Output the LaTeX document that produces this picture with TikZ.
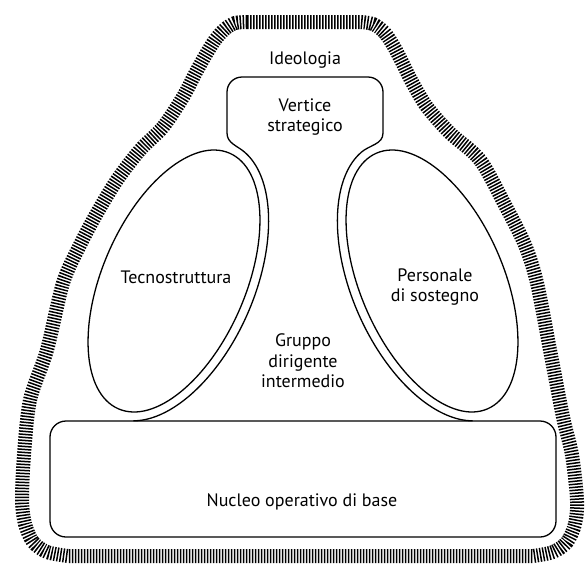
\documentclass[tikz,border=0pt]{standalone}
\usepackage{fontspec}
\setmainfont{PT Sans}
\usetikzlibrary{calc}

\begin{document}
\begin{tikzpicture}[x=1pt, y=1pt, font=\fontsize{18}{20.5}\selectfont]
\tikzstyle{band}=[line width=14pt, dash pattern=on 1.5pt off 1.5pt]
\tikzstyle{partline}=[draw, line width=1.3pt]
\tikzstyle{lbl}=[align=center, inner sep=0pt]
\useasboundingbox (0,0) rectangle (587,-571);
% ideologia
\draw[band] (247,-22) -- (360,-22) -- plot[smooth, tension=0.5] coordinates {(360,-22) (373,-24) (384,-32) (393,-45) (402,-62) (412,-82) (427,-107) (450,-133) (480,-160) (505,-205) (525,-245) (537,-283) (550,-350) (563,-417) (572,-455) (577,-500) (575,-524) (567,-542) (553,-552) (533,-556)} -- (68,-556) -- plot[smooth, tension=0.5] coordinates {(68,-556) (47,-552) (33,-542) (25,-524) (22,-500) (24,-455) (30,-400) (47,-350) (63,-283) (80,-245) (97,-213) (117,-180) (140,-150) (163,-127) (183,-97) (195,-74) (205,-56) (215,-40) (225,-29) (235,-23) (247,-22)} -- cycle;
% tecnostruttura
\begin{scope}[shift={(174,-281)}, rotate=-23.5]
\draw[partline] (0,0) ellipse [x radius=71.5, y radius=139.4];
\draw[partline] (-76.7:80.5 and 148.4) coordinate (lbot) arc[start angle=-76.7, end angle=80, x radius=80.5, y radius=148.4] coordinate (ltop);
\end{scope}
% personale di sostegno
\begin{scope}[shift={(432,-281)}, rotate=23.5]
\draw[partline] (0,0) ellipse [x radius=71.5, y radius=139.4];
\draw[partline] (100:80.5 and 148.4) coordinate (rtop) arc[start angle=100, end angle=256.7, x radius=80.5, y radius=148.4] coordinate (rbot);
\end{scope}
% vertice
\draw[partline] (ltop) to[out=138,in=-90] (227,-133) -- (227,-92) arc[start angle=180, end angle=90, radius=15] -- (368,-77) arc[start angle=90, end angle=0, radius=15] -- (383,-133) to[out=-90,in=42] (rtop);
% nucleo
\draw[partline, rounded corners=16] (50,-421) rectangle (556,-537);
\node (ideol) at (305,-60) {Ideologia};
\node[lbl] (apex) at (305,-117) {Vertice\\strategico};
\node (tecno) at (176,-277) {Tecnostruttura};
\node[lbl] (staff) at (435,-287) {Personale\\di sostegno};
\node[lbl] (middle) at (303,-361) {Gruppo\\dirigente\\intermedio};
\node (core) at (302,-502) {Nucleo operativo di base};
\end{tikzpicture}
\end{document}
